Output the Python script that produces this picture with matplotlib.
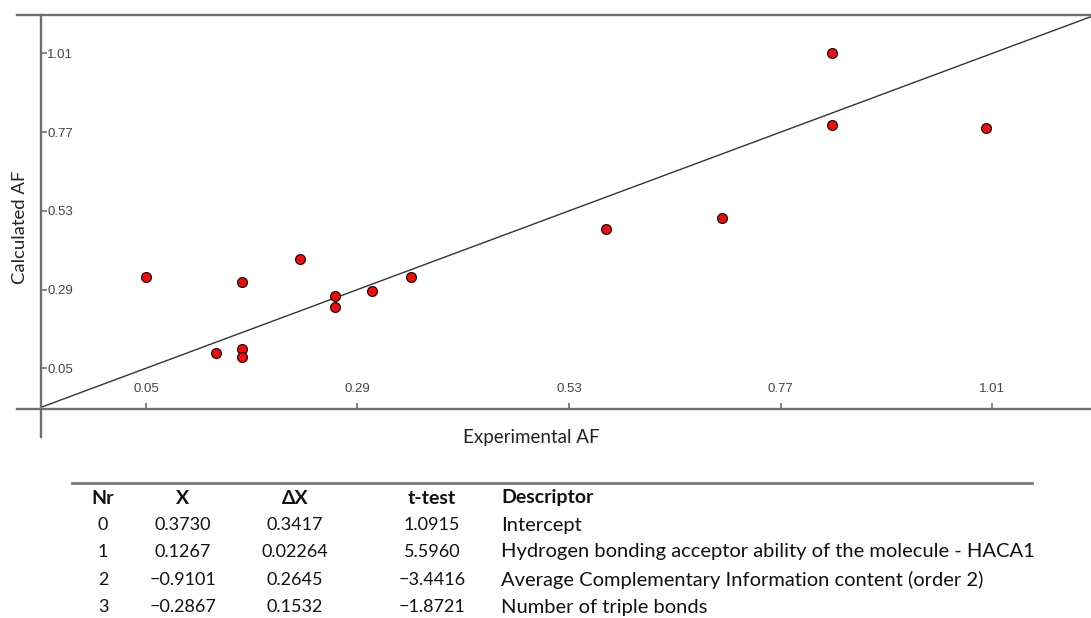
import matplotlib.pyplot as plt
from matplotlib.lines import Line2D

# experimental vs calculated AF
exp_af = [0.05, 0.159, 0.225, 0.264, 0.264, 0.306, 0.351, 0.129, 0.159, 0.159,
          0.828, 0.828, 1.003, 0.703, 0.572]
calc_af = [0.329, 0.312, 0.384, 0.271, 0.238, 0.286, 0.328, 0.0975, 0.109, 0.0835,
           1.01, 0.791, 0.783, 0.509, 0.475]
ticks = [0.05, 0.29, 0.53, 0.77, 1.01]

# regression table
headers = ['Nr', 'X', '\u0394X', 't-test', 'Descriptor']
nr = ['0', '1', '2', '3']
coef = ['0.3730', '0.1267', '\u22120.9101', '\u22120.2867']
delta = ['0.3417', '0.02264', '0.2645', '0.1532']
ttest = ['1.0915', '5.5960', '\u22123.4416', '\u22121.8721']
descr = ['Intercept',
         'Hydrogen bonding acceptor ability of the molecule - HACA1',
         'Average Complementary Information content (order 2)',
         'Number of triple bonds']

W, H = 1091, 618
fig = plt.figure(figsize=(W / 100, H / 100), dpi=100)
ax = fig.add_axes([41 / W, 1 - 409.3 / H, (W - 41) / W, (409.3 - 15) / H])

frame_col = '#6e6e6e'
tick_font = ['Liberation Sans', 'DejaVu Sans']
txt_font = ['Lato', 'DejaVu Sans']

ax.set_xlim(-0.069, 1.122)
ax.set_ylim(-0.075, 1.127)
for s in ax.spines.values():
    s.set_visible(False)

ax.axline((0, 0), slope=1, color='#333333', lw=1.0, zorder=2)
ax.scatter(exp_af, calc_af, s=50, c='#e31414', edgecolors='#300000', linewidths=0.9, zorder=3)

# frame lines running past the axes like the original
ax.add_line(Line2D([-0.0229, 1], [1, 1], transform=ax.transAxes, color=frame_col, lw=1.7, clip_on=False))
ax.add_line(Line2D([-0.0229, 1], [0, 0], transform=ax.transAxes, color=frame_col, lw=1.7, clip_on=False))
ax.add_line(Line2D([0, 0], [1, -0.0695], transform=ax.transAxes, color=frame_col, lw=1.7, clip_on=False))

ax.set_xticks(ticks)
ax.set_xticklabels([f'{t:.2f}' for t in ticks])
ax.set_yticks(ticks)
ax.set_yticklabels([f'{t:.2f}' for t in ticks])
ax.tick_params(axis='x', direction='in', length=4.5, width=1.2, color=frame_col, pad=-19,
               labelsize=9.5, labelcolor='#444444')
ax.tick_params(axis='y', direction='in', length=4, width=1.2, color=frame_col, pad=-23,
               labelsize=9.5, labelcolor='#444444')
for lab in ax.get_xticklabels() + ax.get_yticklabels():
    lab.set_family(tick_font)

fig.text(20 / W, 1 - 227 / H, 'Calculated AF', rotation=90, ha='center', va='center',
         fontsize=13.3, color='#222222', family=txt_font)
fig.text(531 / W, 1 - 437 / H, 'Experimental AF', ha='center', va='center',
         fontsize=13.5, color='#222222', family=txt_font)

# table below the plot
fig.add_artist(Line2D([72 / W, 1032 / W], [1 - 483 / H, 1 - 483 / H], color='#7a7a7a', lw=2))
col_x = [103, 183, 295, 432, 501]
col_ha = ['center', 'center', 'center', 'center', 'left']
row_y = [498, 525, 552, 580, 607]
for hx, ha, h in zip(col_x, col_ha, headers):
    fig.text(hx / W, 1 - row_y[0] / H, h, ha=ha, va='center', fontsize=14,
             fontweight='bold', color='#111111', family=txt_font)
for i in range(len(nr)):
    cells = [nr[i], coef[i], delta[i], ttest[i], descr[i]]
    for j, (hx, ha, c) in enumerate(zip(col_x, col_ha, cells)):
        fs = 14.5 if j == 4 else 13
        fig.text(hx / W, 1 - row_y[i + 1] / H, c, ha=ha, va='center', fontsize=fs,
                 color='#111111', family=txt_font)

fig.savefig('out.png', dpi=100)
